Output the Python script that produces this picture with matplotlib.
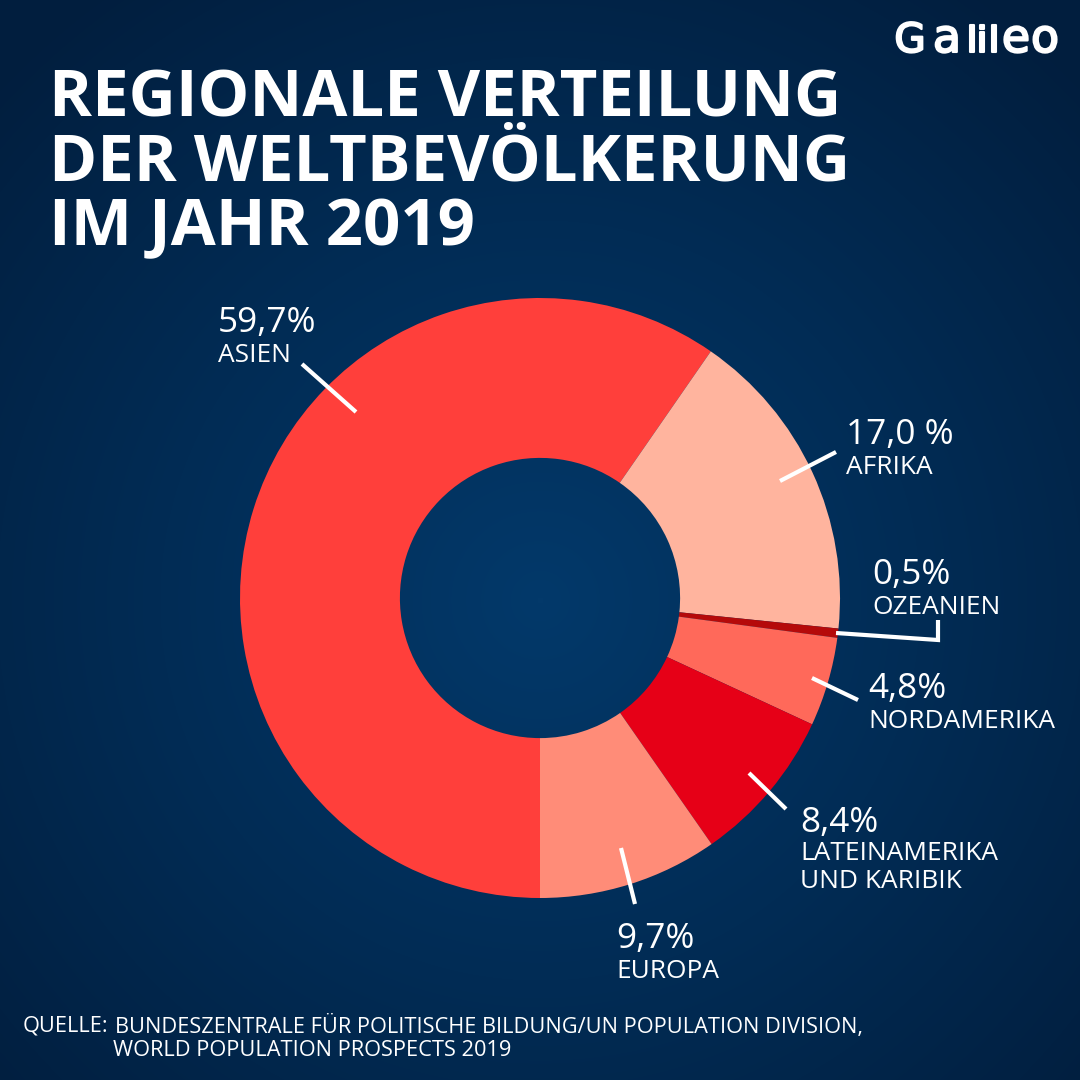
import numpy as np
from matplotlib import pyplot as plt
from matplotlib import patheffects
from matplotlib.colors import LinearSegmentedColormap

# values clockwise starting at the bottom (Asien first)
regions = ["ASIEN", "AFRIKA", "OZEANIEN", "NORDAMERIKA", "LATEINAMERIKA\nUND KARIBIK", "EUROPA"]
shares = [59.7, 17.0, 0.5, 4.8, 8.4, 9.7]
share_labels = ["59,7%", "17,0 %", "0,5%", "4,8%", "8,4%", "9,7%"]
colors = ["#FF3F3B", "#FFB49E", "#B50A0A", "#FF695A", "#E60017", "#FF8C78"]

title_lines = ["REGIONALE VERTEILUNG", "DER WELTBEVÖLKERUNG", "IM JAHR 2019"]
source_lines = ["QUELLE:", "BUNDESZENTRALE FÜR POLITISCHE BILDUNG/UN POPULATION DIVISION,",
                "WORLD POPULATION PROSPECTS 2019"]
logo_letters = ["G", "a", "l", "i", "l", "e", "o"]

plt.rcParams["font.family"] = ["Open Sans", "DejaVu Sans"]

fig = plt.figure(figsize=(10.8, 10.8), dpi=100)
bg = fig.add_axes([0, 0, 1, 1])
bg.set_xlim(0, 1080)
bg.set_ylim(1080, 0)
bg.axis("off")

# radial background
cmap = LinearSegmentedColormap.from_list("bg", ["#03396A", "#012C55", "#011E3E"])
yy, xx = np.mgrid[0:1080, 0:1080]
rr = np.sqrt((xx - 540) ** 2 + (yy - 600) ** 2) / 760
bg.imshow(rr, cmap=cmap, vmin=0, vmax=1, extent=[0, 1080, 1080, 0], aspect="auto")

# donut, centre (540, 598) radius 300 px, hole radius 140 px
ax = fig.add_axes([240 / 1080, 1 - 898 / 1080, 600 / 1080, 600 / 1080])
ax.pie(shares, colors=colors, startangle=-90, counterclock=False, radius=1,
       wedgeprops=dict(width=0.533, linewidth=0))
ax.set_xlim(-1, 1)
ax.set_ylim(-1, 1)

# overlay in pixel coordinates, above the donut
top = fig.add_axes([0, 0, 1, 1])
top.set_xlim(0, 1080)
top.set_ylim(1080, 0)
top.axis("off")
top.patch.set_alpha(0)

# big numbers + region names
label_pos = [(218, 322, 355), (846, 434, 467), (872, 574, 607), (868, 688, 722), (800, 822, 855), (616, 938, 971)]
for share, name, (x, y1, y2) in zip(share_labels, regions, label_pos):
    top.text(x, y1 + 0.5, share, color="white", fontsize=25.3, va="center", ha="left")
    if "\n" in name:
        top.text(x, y2 - 14, name, color="white", fontsize=18.9, va="top", ha="left", linespacing=1.17)
    else:
        top.text(x, y2, name, color="white", fontsize=18.9, va="center", ha="left")

# leader lines
leaders = [([302, 356], [364, 412]), ([780, 836], [481, 452]), ([812, 858], [678, 700]),
           ([749, 786], [773, 809]), ([621, 635], [848, 904])]
for lx, ly in leaders:
    top.plot(lx, ly, color="white", lw=3, solid_capstyle="butt")
top.plot([836, 938, 938], [633, 640, 620], color="white", lw=3, solid_capstyle="butt", solid_joinstyle="miter")

# title
for line, y in zip(title_lines, [100, 164, 229]):
    top.text(49, y, line, color="white", fontsize=47, fontweight="bold", va="center", ha="left")

# source
top.text(23, 1026, source_lines[0], color="white", fontsize=15.7, va="center")
top.text(115, 1026, source_lines[1], color="white", fontsize=15.7, va="center")
top.text(113, 1050, source_lines[2], color="white", fontsize=15.7, va="center")

# logo, letter by letter because the wordmark is much wider than any installed font
logo_x = [910, 947, 972, 982, 994, 1016, 1045]
logo_size = [29, 33, 26, 26, 26, 33, 33]
for ch, x, size in zip(logo_letters, logo_x, logo_size):
    top.text(x, 52, ch, color="white", fontsize=size, family="DejaVu Sans", va="baseline", ha="center",
             path_effects=[patheffects.withStroke(linewidth=1.5, foreground="white")])

fig.savefig("out.png", dpi=100)
